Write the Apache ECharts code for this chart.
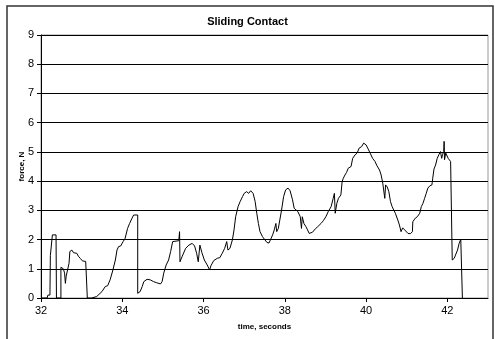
<!DOCTYPE html>
<html><head><meta charset="utf-8">
<script src="https://cdn.jsdelivr.net/npm/echarts@6/dist/echarts.min.js"></script>
<style>html,body{margin:0;padding:0;background:#fff}#c{width:495px;height:339px}</style>
</head><body><div id="c"></div>
<script>
var titleText = "Sliding Contact";
var xName = "time, seconds";
var yName = "force, N";
var times = [32.0,32.15,32.17,32.2,32.22,32.23,32.25,32.28,32.37,32.38,32.49,32.49,32.55,32.58,32.6,32.62,32.66,32.69,32.71,32.76,32.8,32.84,32.88,32.92,32.97,33.02,33.1,33.13,33.14,33.25,33.37,33.5,33.58,33.64,33.7,33.77,33.83,33.87,33.91,33.96,34.02,34.07,34.13,34.18,34.24,34.28,34.38,34.38,34.44,34.49,34.53,34.61,34.69,34.77,34.85,34.94,34.98,35.02,35.08,35.14,35.19,35.24,35.28,35.39,35.41,35.42,35.47,35.51,35.56,35.6,35.64,35.72,35.78,35.83,35.87,35.91,35.96,36.02,36.09,36.15,36.18,36.25,36.34,36.4,36.46,36.52,36.57,36.6,36.65,36.71,36.75,36.79,36.85,36.9,36.96,37.0,37.06,37.11,37.16,37.22,37.27,37.31,37.35,37.39,37.45,37.51,37.56,37.61,37.65,37.7,37.74,37.78,37.8,37.84,37.88,37.92,37.97,38.02,38.08,38.13,38.19,38.23,38.27,38.32,38.38,38.41,38.43,38.47,38.52,38.56,38.6,38.64,38.68,38.72,38.76,38.81,38.85,38.89,38.95,39.01,39.07,39.14,39.19,39.22,39.24,39.28,39.32,39.38,39.41,39.44,39.48,39.52,39.56,39.63,39.67,39.73,39.78,39.83,39.89,39.94,40.0,40.04,40.1,40.16,40.22,40.27,40.33,40.37,40.41,40.46,40.48,40.52,40.56,40.6,40.64,40.68,40.72,40.78,40.82,40.86,40.9,40.95,40.99,41.03,41.09,41.14,41.15,41.21,41.26,41.32,41.36,41.4,41.44,41.48,41.52,41.57,41.62,41.64,41.67,41.71,41.75,41.79,41.83,41.86,41.88,41.91,41.92,41.93,41.96,42.02,42.08,42.11,42.12,42.17,42.2,42.25,42.29,42.33,42.37,42.37];
var forces = [0,0,0.1,0.05,0.1,1.45,1.5,2.16,2.16,0,0,1.05,1.0,0.85,0.5,0.75,0.78,1.19,1.59,1.64,1.55,1.5,1.53,1.43,1.35,1.27,1.25,1.2,0,0,0.05,0.22,0.39,0.42,0.62,0.96,1.3,1.64,1.76,1.78,1.93,2.04,2.38,2.55,2.73,2.84,2.84,0.16,0.22,0.39,0.56,0.64,0.62,0.56,0.52,0.48,0.56,0.85,1.13,1.3,1.59,1.93,1.96,1.96,2.27,1.24,1.41,1.45,1.7,1.64,1.81,1.87,1.78,1.53,1.24,1.81,1.55,1.3,1.13,0.96,1.1,1.28,1.36,1.38,1.53,1.7,1.93,1.64,1.7,1.99,2.33,2.78,3.13,3.3,3.47,3.58,3.64,3.58,3.67,3.58,3.3,2.9,2.55,2.27,2.1,1.99,1.9,1.88,1.93,2.16,2.33,2.55,2.27,2.38,2.44,3.01,3.47,3.7,3.76,3.67,3.36,3.07,3.01,2.96,2.78,2.38,2.78,2.55,2.44,2.33,2.21,2.16,2.25,2.21,2.38,2.44,2.4,2.55,2.65,2.78,2.96,3.13,3.41,3.58,2.9,3.24,3.41,3.53,3.98,4.1,4.21,4.3,4.44,4.5,4.78,4.9,4.96,5.13,5.18,5.3,5.24,5.13,4.96,4.78,4.67,4.52,4.38,4.21,3.93,3.41,3.87,3.8,3.64,3.3,3.13,3.01,2.9,2.67,2.5,2.27,2.4,2.33,2.27,2.21,2.2,2.27,2.61,2.73,2.78,2.9,3.13,3.24,3.41,3.58,3.76,3.84,3.87,4.1,4.41,4.55,4.78,4.9,5.01,4.78,4.9,5.01,5.36,4.73,4.96,4.78,4.67,4.61,1.3,1.36,1.47,1.64,1.87,2.01,2.01,0];
var xMin = 32, xMax = 43, xStep = 2;
var yMin = 0, yMax = 9, yStep = 1;

var data = times.map(function(t,i){return [t, forces[i]];});
var chart = echarts.init(document.getElementById('c'), null, {renderer:'canvas'});
var font = 'Liberation Sans, Arial, sans-serif';
chart.setOption({
  animation: false,
  backgroundColor: '#fff',
  title: {text: titleText, left: 'center', top: 11,
    textStyle: {fontFamily: font, fontSize: 11, fontWeight: 'bold', color: '#000'}},
  graphic: [{type: 'rect', shape: {x: 7, y: 6, width: 486, height: 340},
    style: {fill: null, stroke: '#333', lineWidth: 1.5}, silent: true}],
  grid: {left: 41, right: 7, top: 35, bottom: 41, show: true, borderColor: '#999', borderWidth: 1, backgroundColor: 'transparent'},
  xAxis: {type: 'value', min: xMin, max: xMax, interval: xStep,
    name: xName, nameLocation: 'middle', nameGap: 25, nameMoveOverlap: false,
    nameTextStyle: {fontFamily: font, fontSize: 8, fontWeight: 'bold', color: '#000'},
    axisLine: {show: true, lineStyle: {color: '#000', width: 1}},
    axisTick: {show: true, inside: false, length: 4, lineStyle: {color: '#000'}},
    axisLabel: {fontFamily: font, fontSize: 11, color: '#000', margin: 7, showMaxLabel: false},
    splitLine: {show: false}},
  yAxis: {type: 'value', min: yMin, max: yMax, interval: yStep,
    name: yName, nameLocation: 'middle', nameGap: 15, nameRotate: 90, nameMoveOverlap: false,
    nameTextStyle: {fontFamily: font, fontSize: 8, fontWeight: 'bold', color: '#000', padding: [0, 0, 0, 0]},
    axisLine: {show: true, lineStyle: {color: '#000', width: 1}},
    axisTick: {show: true, inside: false, length: 4, lineStyle: {color: '#000'}},
    axisLabel: {fontFamily: font, fontSize: 11, color: '#000', margin: 7},
    splitLine: {show: true, lineStyle: {color: '#000', width: 1}}},
  series: [{type: 'line', data: data, showSymbol: false, symbol: 'none',
    lineStyle: {color: '#000', width: 1}, clip: true}]
});
</script></body></html>
